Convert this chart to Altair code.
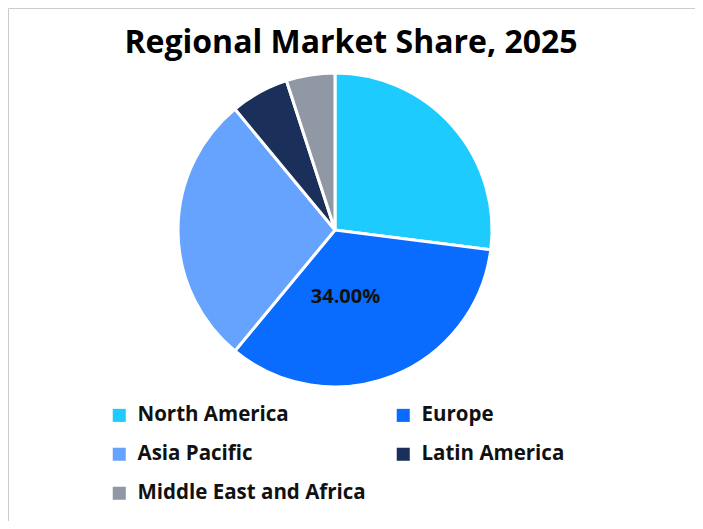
import altair as alt
import pandas as pd

regions = ["North America", "Europe", "Asia Pacific", "Latin America", "Middle East and Africa"]
shares = [27, 34, 28, 6, 5]
colors = ["#1ECBFF", "#0A6BFF", "#66A3FF", "#1B2F5B", "#9098A6"]
label_region = "Europe"

df = pd.DataFrame({"region": regions, "share": shares, "order": list(range(len(regions)))})
df["label"] = [f"{s:.2f}%" if r == label_region else "" for r, s in zip(regions, shares)]

FONT = "Open Sans"
CX, CY, R = 327, 222, 157

base = alt.Chart(df).encode(
    theta=alt.Theta("share:Q", stack=True),
    order=alt.Order("order:Q"),
)

arcs = base.mark_arc(outerRadius=R, stroke="white", strokeWidth=3).encode(
    x=alt.value(CX), y=alt.value(CY),
    color=alt.Color(
        "region:N",
        scale=alt.Scale(domain=regions, range=colors),
        sort=regions,
        legend=alt.Legend(
            title=None, orient="none", legendX=101, legendY=397,
            direction="horizontal", columns=2,
            symbolType="square", symbolSize=170, symbolStrokeWidth=0,
            labelFont=FONT, labelFontSize=20.5, labelFontWeight="bold", labelColor="#111111",
            labelOffset=8, rowPadding=18, columnPadding=27, labelLimit=400,
        ),
    ),
)

labels = base.mark_text(radius=72, dx=-16, font=FONT, fontSize=20, fontWeight="bold", color="#111111").encode(
    x=alt.value(CX), y=alt.value(CY), text="label:N"
)

title = alt.Chart(pd.DataFrame({"t": ["Regional Market Share, 2025"]})).mark_text(
    font=FONT, fontSize=32, fontWeight="bold", color="#000000"
).encode(x=alt.value(343), y=alt.value(35), text="t:N")

chart = alt.layer(arcs, labels, title).properties(
    width=687, height=513, padding=0, autosize="none"
).configure_view(stroke="#CCCCCC", strokeWidth=1)

chart.save("out.html", embed_options={"renderer": "svg", "actions": False})
